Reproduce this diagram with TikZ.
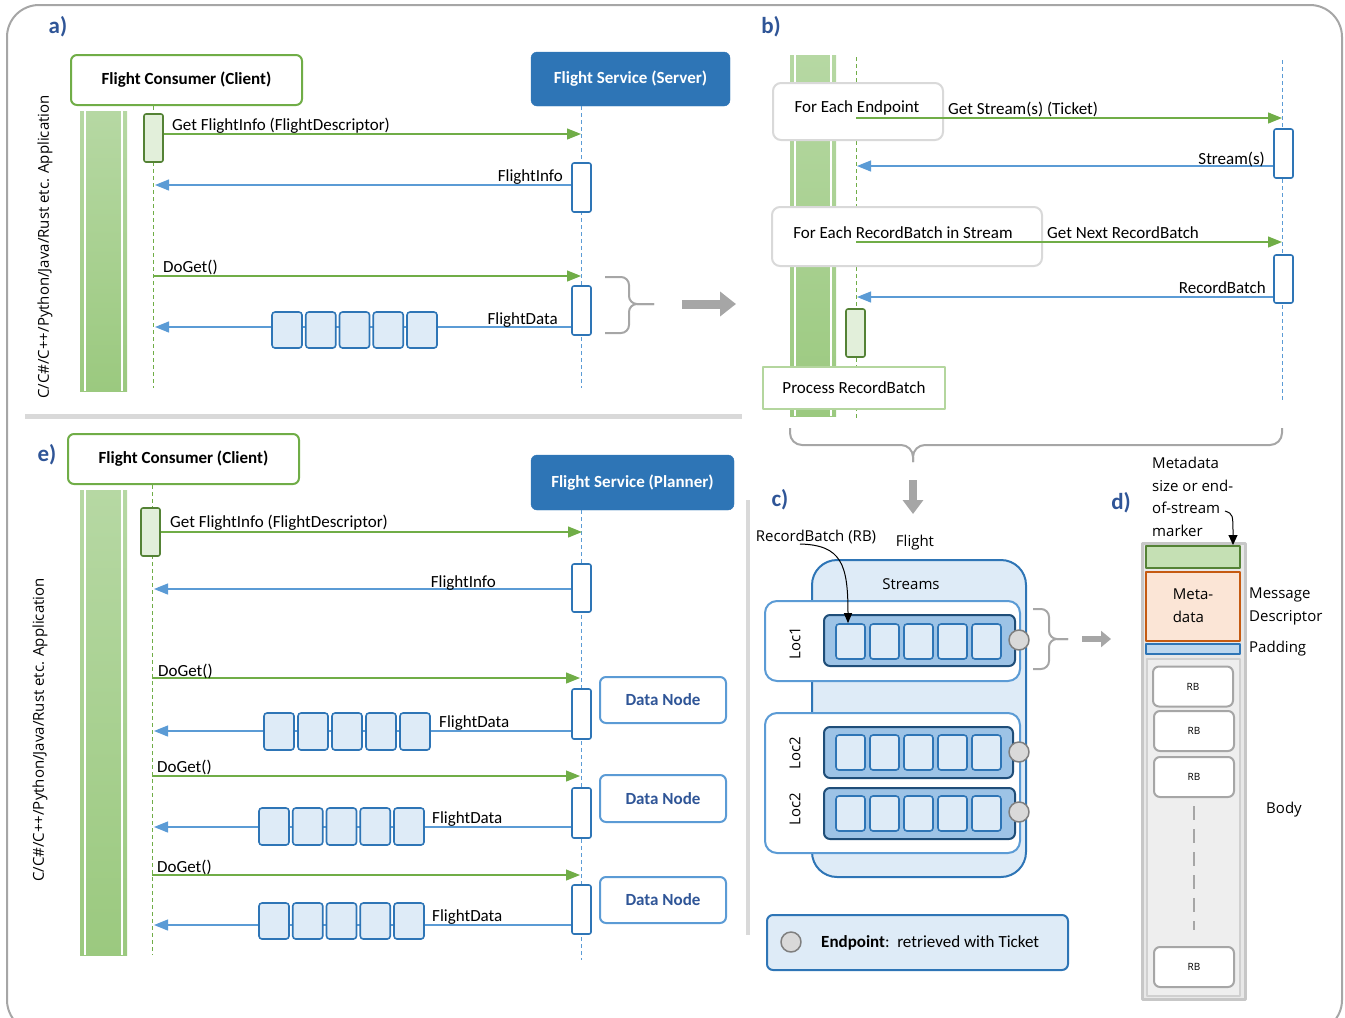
\documentclass[tikz,border=0pt]{standalone}
\usepackage{fontspec}
\setmainfont{Carlito}
\newfontfamily\opensans{Open Sans}
\usetikzlibrary{arrows.meta,positioning}

\definecolor{lgreen}{HTML}{70AD47}
\definecolor{dgreen}{HTML}{548235}
\definecolor{pgreen}{HTML}{E2EFDA}
\definecolor{bartop}{HTML}{B6D8A3}
\definecolor{barbot}{HTML}{9BC97F}
\definecolor{lblue}{HTML}{5B9BD5}
\definecolor{mblue}{HTML}{2E75B6}
\definecolor{nblue}{HTML}{1F4E79}
\definecolor{pblue}{HTML}{DEEBF7}
\definecolor{rblue}{HTML}{9DC3E6}
\definecolor{tblue}{HTML}{2F5597}
\definecolor{lgray}{HTML}{D9D9D9}
\definecolor{mgray}{HTML}{A6A6A6}
\definecolor{dgray}{HTML}{7F7F7F}
\definecolor{orng}{HTML}{C55A11}
\definecolor{porng}{HTML}{FBE5D6}
\definecolor{mgreen}{HTML}{C5E0B4}
\definecolor{pad}{HTML}{BDD7EE}

\begin{document}
\begin{tikzpicture}[x=1pt,y=-1pt,line join=round,
  every node/.style={inner sep=1pt},
  lbl/.style={font=\fontsize{17}{20}\selectfont},
  os/.style={font=\opensans\fontsize{15}{18}\selectfont},
  tag/.style={font=\fontsize{23}{26}\selectfont\bfseries,text=tblue},
  client/.style={draw=lgreen,line width=2pt,fill=white,rounded corners=6pt,font=\fontsize{17}{20}\selectfont\bfseries},
  server/.style={draw=mblue,fill=mblue,rounded corners=6pt,text=white,font=\fontsize{17}{20}\selectfont\bfseries},
  dnode/.style={draw=lblue,line width=2pt,fill=white,rounded corners=6pt,text=tblue,font=\fontsize{17}{20}\selectfont\bfseries,minimum width=126pt,minimum height=46pt},
  cact/.style={draw=dgreen,fill=pgreen,line width=1.6pt,rounded corners=2pt,minimum width=19pt,minimum height=48pt},
  sact/.style={draw=mblue,fill=white,line width=1.6pt,rounded corners=2pt,minimum width=19pt,minimum height=49pt},
  rbat/.style={draw=mblue,fill=pblue,line width=1.6pt,rounded corners=3pt,minimum width=30pt,minimum height=36pt},
  call/.style={lgreen,line width=1.2pt,-{Triangle[length=14pt,width=11pt]}},
  reply/.style={lblue,line width=1.2pt,-{Triangle[length=14pt,width=11pt]}},
  cline/.style={lgreen,dash pattern=on 4pt off 3pt,line width=0.9pt},
  sline/.style={lblue,dash pattern=on 4pt off 3pt,line width=0.9pt},
  bar/.style={top color=bartop,bottom color=barbot},
  brc/.style={mgray,line width=2pt,rounded corners=8pt},
  fat/.style={mgray,-{Triangle[length=16pt,width=24pt]}},
  side/.style={font=\opensans\fontsize{15}{18}\selectfont,rotate=90},
  loopbox/.style={draw=lgray,line width=2pt,fill=white,rounded corners=8pt},
  rbbox/.style={draw=mgray,line width=2pt,fill=white,rounded corners=6pt,minimum width=80pt,minimum height=40pt,font=\opensans\fontsize{10}{11}\selectfont},
  small/.style={draw=mblue,fill=pblue,line width=1.6pt,rounded corners=3pt,minimum width=29pt,minimum height=35pt},
  row/.style={draw=nblue,fill=rblue,line width=2pt,rounded corners=6pt,minimum width=191pt,minimum height=51pt},
  ep/.style={circle,draw=dgray,fill=lgray,line width=1.5pt,minimum size=20pt,inner sep=0pt}
]
\useasboundingbox (0,0) rectangle (1345,1018);
\clip (0,0) rectangle (1345,1018);

% frame and separators
\draw[mgray,line width=2pt,rounded corners=32pt] (7,5) rectangle (1342,1032);
\draw[lgray,line width=5pt] (25,416) -- (742,416);
\draw[lgray,line width=4pt] (748,500) -- (748,935);

% ---------------- a)
\node[tag] (ta) at (58,27) {a)};
\node[client,minimum width=231pt,minimum height=50pt] (ac) at (186.5,80) {Flight Consumer (Client)};
\node[server,minimum width=199pt,minimum height=54pt] (as) at (630.5,79) {Flight Service (Server)};
\fill[bar] (80,111) rectangle (127,391);
\draw[white,line width=1.5pt] (85,111) -- (85,391) (122,111) -- (122,391);
\node[side] (aapp) at (45,247) {C/C\#/C++/Python/Java/Rust etc. Application};
\coordinate (acl) at (153,388);
\coordinate (asl) at (581,388);
\draw[cline] (acl |- ac.south) -- (acl);
\draw[sline] (asl |- as.south) -- (asl);
\node[cact] (ac1) at (153.5,138) {};
\node[sact] (as1) at (581.5,187.5) {};
\node[sact] (as2) at (581.5,310.5) {};
\coordinate (a1) at (581,134);
\coordinate (a2) at (155,185);
\coordinate (a3) at (581,276);
\coordinate (a4) at (155,327);
\draw[call] (ac1.east |- a1) -- (a1);
\draw[reply] (as1.west |- a2) -- (a2);
\draw[call] (acl |- a3) -- (a3);
\draw[reply] (as2.west |- a4) -- (a4);
\foreach \i in {0,...,4} \node[rbat] (ab\i) at (287+\i*33.75,330) {};
\node[lbl,anchor=base west] (al1) at (171,130) {Get FlightInfo (FlightDescriptor)};
\node[lbl,anchor=base east] (al2) at (564,181) {FlightInfo};
\node[lbl,anchor=base west] (al3) at (162,272) {DoGet()};
\node[lbl,anchor=base east] (al4) at (559,324) {FlightData};
\draw[brc] (605,277) -- (629,277) -- (629,304) -- (654,304);
\draw[brc] (654,304) -- (629,304) -- (629,333) -- (605,333);
\coordinate (af1) at (682,304);
\coordinate (af2) at (736,304);
\draw[fat,line width=9pt] (af1) -- (af2);

% ---------------- b)
\node[tag] (tb) at (771,27) {b)};
\fill[bar] (790,55) rectangle (836,416);
\draw[white,line width=1.5pt] (795,55) -- (795,416) (831,55) -- (831,416);
\coordinate (bcl) at (856,418);
\coordinate (bsl) at (1282,400);
\draw[cline] (856,57) -- (bcl);
\draw[sline] (1282,60) -- (bsl);
\node[loopbox,minimum width=170pt,minimum height=57pt] (fe1) at (858,111.5) {};
\node[lbl] (fe1t) at (857,108) {For Each Endpoint};
\node[loopbox,minimum width=270pt,minimum height=59pt] (fe2) at (907,236.5) {};
\node[lbl] (fe2t) at (903,233) {For Each RecordBatch in Stream};
\node[sact] (bs1) at (1283.5,153.5) {};
\node[sact,minimum height=48pt] (bs2) at (1283.5,279) {};
\node[cact] (bc1) at (855.5,333) {};
\coordinate (b1) at (1282,118);
\coordinate (b2) at (857,166);
\coordinate (b3) at (1282,242);
\coordinate (b4) at (857,297);
\draw[call] (bcl |- b1) -- (b1);
\draw[reply] (bs1.west |- b2) -- (b2);
\draw[call] (bcl |- b3) -- (b3);
\draw[reply] (bs2.west |- b4) -- (b4);
\node[lbl,anchor=base west] (bl1) at (947,114) {Get Stream(s) (Ticket)};
\node[lbl,anchor=base east] (bl2) at (1266,164) {Stream(s)};
\node[lbl,anchor=base west] (bl3) at (1046,238) {Get Next RecordBatch};
\node[lbl,anchor=base east] (bl4) at (1267,293) {RecordBatch};
\node[draw=mgreen!80!lgreen,line width=2pt,fill=white,minimum width=182pt,minimum height=42pt,lbl] (proc) at (854,388) {Process RecordBatch};
\draw[brc,rounded corners=12pt] (790,428) -- (790,445) -- (913,445) -- (913,462);
\draw[brc,rounded corners=12pt] (913,462) -- (913,445) -- (1282,445) -- (1282,428);
\coordinate (bf1) at (913,480);
\coordinate (bf2) at (913,514);
\draw[fat,line width=8pt,-{Triangle[length=14pt,width=20pt]}] (bf1) -- (bf2);

% ---------------- c)
\node[tag] (tc) at (780,500) {c)};
\node[os] (rbl) at (816,537) {RecordBatch (RB)};
\node[os] (fl) at (915,543) {Flight};
\node[draw=mblue,fill=pblue,line width=2pt,rounded corners=25pt,minimum width=214pt,minimum height=317pt] (st) at (919,718.5) {};
\node[os] (stt) at (911,584) {Streams};
\node[draw=lblue,fill=white,line width=2pt,rounded corners=12pt,minimum width=255pt,minimum height=80pt] (loc1) at (892.5,641) {};
\node[draw=lblue,fill=white,line width=2pt,rounded corners=12pt,minimum width=255pt,minimum height=140pt] (loc2) at (892.5,783) {};
\node[os,rotate=90] (l1) at (795,643) {Loc1};
\node[os,rotate=90] (l2) at (795,753) {Loc2};
\node[os,rotate=90] (l3) at (795,809) {Loc2};
\node[row] (r1) at (919.5,640.5) {};
\node[row,minimum width=189pt] (r2) at (918.5,752.5) {};
\node[row] (r3) at (919.5,813.5) {};
\foreach \i in {1,...,5} {
  \node[small] (c1\i) at (816.5+\i*34,641.5) {};
  \node[small] (c2\i) at (816.5+\i*34,752.5) {};
  \node[small] (c3\i) at (816.5+\i*34,813.5) {};
}
\node[ep] (e1) at (1019,640) {};
\node[ep] (e2) at (1019,752) {};
\node[ep] (e3) at (1019,812) {};
\coordinate (rbs) at (800,544);
\draw[line width=1pt,-{Triangle[length=10pt,width=8pt]}] (rbs) .. controls (842,545) and (848,565) .. (c11.north -| 848,0);
\draw[brc] (1033,609) -- (1049,609) -- (1049,639) -- (1068,639);
\draw[brc] (1068,639) -- (1049,639) -- (1049,669) -- (1033,669);
\coordinate (cf1) at (1082,639);
\coordinate (cf2) at (1111,639);
\draw[fat,line width=6pt,-{Triangle[length=10pt,width=16pt]}] (cf1) -- (cf2);
\node[draw=mblue,fill=pblue,line width=2pt,rounded corners=6pt,minimum width=301pt,minimum height=55pt] (lg) at (917.5,942.5) {};
\node[ep] (lge) at (791,942) {};
\node[lbl,anchor=west] (lgt) at (820,943) {\textbf{Endpoint}:~~retrieved with Ticket};

% ---------------- d)
\node[tag] (td) at (1121,503) {d)};
\node[os,font=\opensans\fontsize{15}{22.5}\selectfont,align=left,anchor=north west] (mt) at (1151,456) {Metadata\\size or end-\\of-stream\\marker};
\fill[lgray!60!white,draw=lgray!80!gray,line width=3pt] (1142,543) rectangle (1245,999);
\node[draw=dgreen,fill=mgreen,line width=2pt,minimum width=94pt,minimum height=22pt] (mk) at (1193,557) {};
\node[draw=orng,fill=porng,line width=2pt,minimum width=94pt,minimum height=69pt,font=\opensans\fontsize{15}{23}\selectfont,align=left] (md) at (1193,606) {Meta-\\data};
\node[draw=mblue,fill=pad,line width=1.5pt,minimum width=94pt,minimum height=10pt,inner sep=0pt] (pd) at (1193,649) {};
\node[draw=lgray!90!gray,fill=lgray!45!white,line width=2pt,minimum width=93pt,minimum height=337pt] (bd) at (1193.5,827.5) {};
\node[rbbox] (rb1) at (1193,686.5) {RB};
\node[rbbox] (rb2) at (1194,731) {RB};
\node[rbbox] (rb3) at (1194,777) {RB};
\node[rbbox] (rb4) at (1194,967) {RB};
\draw[mgray,line width=2pt,dash pattern=on 14pt off 9pt] (rb3.south |- 0,806) -- (rb3.south |- 0,930);
\coordinate (mks) at (1225,511);
\draw[line width=1pt,-{Triangle[length=10pt,width=9pt]}] (mks) .. controls (1233,514) .. (mk.north east -| 1233,0);
\node[os,align=left,anchor=north west,font=\opensans\fontsize{15}{23}\selectfont] (msg) at (1248,587) {Message\\Descriptor};
\node[os,anchor=west] (pdl) at (1248,649) {Padding};
\node[os] (bdl) at (1284,810) {Body};

% ---------------- e)
\node[tag] (te) at (47,455) {e)};
\node[client,minimum width=231pt,minimum height=50pt] (ec) at (183.5,459) {Flight Consumer (Client)};
\node[server,minimum width=203pt,minimum height=55pt] (es) at (632.5,482.5) {Flight Service (Planner)};
\fill[bar] (80,490) rectangle (127,955);
\draw[white,line width=1.5pt] (85,490) -- (85,955) (122,490) -- (122,955);
\node[side] (eapp) at (40,730) {C/C\#/C++/Python/Java/Rust etc. Application};
\coordinate (ecl) at (152,955);
\coordinate (esl) at (581,960);
\draw[cline] (ecl |- ec.south) -- (ecl);
\draw[sline] (esl |- es.south) -- (esl);
\node[cact] (ec1) at (150.5,532) {};
\node[sact,minimum height=48pt] (es1) at (581.5,588) {};
\node[sact,minimum height=50pt] (es2) at (581.5,714) {};
\node[sact,minimum height=50pt] (es3) at (581.5,813) {};
\node[sact] (es4) at (581.5,909.5) {};
\node[dnode] (dn1) at (663,700) {Data Node};
\node[dnode,minimum height=47pt] (dn2) at (663,798.5) {Data Node};
\node[dnode] (dn3) at (663,900) {Data Node};
\coordinate (e1) at (582,532);
\coordinate (e2) at (154,589);
\coordinate (e3) at (580,678);
\coordinate (e4) at (154,731);
\coordinate (e5) at (580,776);
\coordinate (e6) at (154,827);
\coordinate (e7) at (580,875);
\coordinate (e8) at (154,925);
\draw[call] (ec1.east |- e1) -- (e1);
\draw[reply] (es1.west |- e2) -- (e2);
\draw[call] (ecl |- e3) -- (e3);
\draw[reply] (es2.west |- e4) -- (e4);
\draw[call] (ecl |- e5) -- (e5);
\draw[reply] (es3.west |- e6) -- (e6);
\draw[call] (ecl |- e7) -- (e7);
\draw[reply] (es4.west |- e8) -- (e8);
\foreach \i in {0,...,4} {
  \node[rbat,minimum height=37pt] (eb1\i) at (279+\i*34,731.5) {};
  \node[rbat,minimum height=37pt] (eb2\i) at (274+\i*33.75,826.5) {};
  \node[rbat] (eb3\i) at (274+\i*33.75,921) {};
}
\node[lbl,anchor=base west] (el1) at (169,527) {Get FlightInfo (FlightDescriptor)};
\node[lbl,anchor=base east] (el2) at (497,587) {FlightInfo};
\node[lbl,anchor=base west] (el3) at (157,676) {DoGet()};
\node[lbl,anchor=base west] (el4) at (438,727) {FlightData};
\node[lbl,anchor=base west] (el5) at (156,772) {DoGet()};
\node[lbl,anchor=base west] (el6) at (431,823) {FlightData};
\node[lbl,anchor=base west] (el7) at (156,872) {DoGet()};
\node[lbl,anchor=base west] (el8) at (431,921) {FlightData};
\end{tikzpicture}
\end{document}
